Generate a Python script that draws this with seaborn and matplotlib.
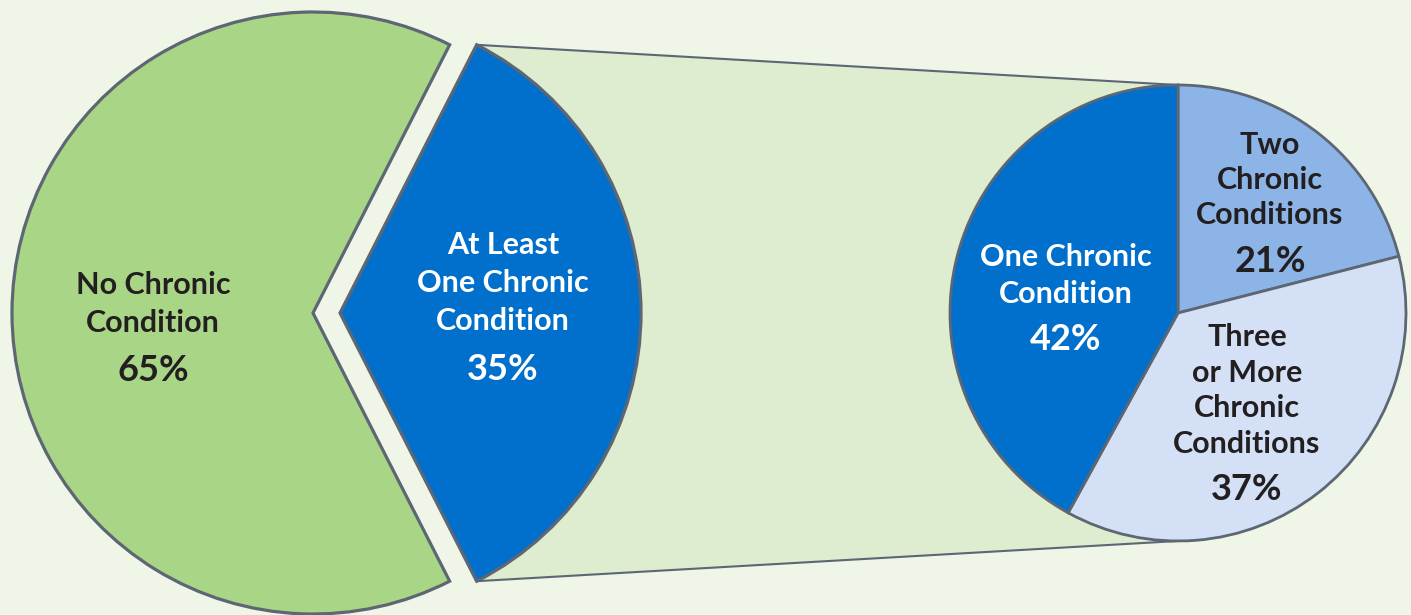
import matplotlib
matplotlib.use("Agg")
import matplotlib.pyplot as plt
from matplotlib.patches import Polygon
import numpy as np
import seaborn as sns

# data
main_labels = ["No Chronic\nCondition", "At Least\nOne Chronic\nCondition"]
main_values = [65, 35]
sub_labels = ["Two\nChronic\nConditions", "Three\nor More\nChronic\nConditions", "One Chronic\nCondition"]
sub_values = [21, 37, 42]

main_colors = ["#a9d586", "#0070cc"]
sub_colors = ["#8cb4e6", "#d3e0f5", "#0070cc"]
main_text = ["#231f20", "white"]
sub_text = ["#231f20", "#231f20", "white"]

sns.set_theme(style="white")
plt.rcParams["font.family"] = ["Lato", "DejaVu Sans"]

bg = "#eff6e7"
edge = "#5d6673"
W, H = 1411, 615

fig = plt.figure(figsize=(14.11, 6.15), dpi=100, facecolor=bg)
ax = fig.add_axes([0, 0, 1, 1])
ax.set_facecolor(bg)

# left pie, blue wedge pulled out (explode is in data units here)
r1 = 301
c1 = (313, H - 313)
wedges1, _ = ax.pie(main_values, colors=main_colors, radius=r1, center=c1,
                    startangle=63, counterclock=True, explode=[0, 27],
                    wedgeprops=dict(edgecolor=edge, linewidth=2.3, zorder=3),
                    frame=True)

# right pie
r2 = 228
c2 = (1178, H - 313)
wedges2, _ = ax.pie(sub_values, colors=sub_colors, radius=r2, center=c2,
                    startangle=90, counterclock=False,
                    wedgeprops=dict(edgecolor=edge, linewidth=2.0, zorder=3),
                    frame=True)
ax.set_xlim(0, W)
ax.set_ylim(0, H)
ax.set_aspect("equal")
ax.axis("off")

# connector between exploded wedge and right pie
bw = wedges1[1]
bx, by = bw.center
t1, t2 = np.radians(bw.theta1), np.radians(bw.theta2)
p_bot = (bx + bw.r * np.cos(t1), by + bw.r * np.sin(t1))
p_top = (bx + bw.r * np.cos(t2), by + bw.r * np.sin(t2))
q_top = (c2[0], c2[1] + r2)
q_bot = (c2[0], c2[1] - r2)
ax.add_patch(Polygon([p_top, q_top, q_bot, p_bot], closed=True,
                     facecolor="#deedcf", edgecolor="none", zorder=1))
ax.plot([p_top[0], q_top[0]], [p_top[1], q_top[1]], color=edge, lw=1.5, zorder=2)
ax.plot([p_bot[0], q_bot[0]], [p_bot[1], q_bot[1]], color=edge, lw=1.5, zorder=2)


def put_label(x, yc, lab, val, col, step, gap):
    lines = lab.split("\n")
    n = len(lines)
    for i, ln in enumerate(lines):
        y = yc + (i - (n - 1) / 2) * step
        ax.text(x, H - y, ln, ha="center", va="center", fontsize=22,
                fontweight="bold", color=col, zorder=5)
    ylast = yc + (n - 1) / 2 * step
    ax.text(x, H - (ylast + gap), f"{val}%", ha="center", va="center",
            fontsize=26, fontweight="bold", color=col, zorder=5)


# labels
main_pos = [(153, 303.5), (503, 283)]
sub_pos = [(1270, 180), (1247, 390.5), (1066, 275.5)]
for lab, val, (x, y), col in zip(main_labels, main_values, main_pos, main_text):
    put_label(x, y, lab, val, col, 38, 48)
for lab, val, (x, y), col in zip(sub_labels, sub_values, sub_pos, sub_text):
    step = 37 if col == "white" else 35.5
    put_label(x, y, lab, val, col, step, 46)

fig.savefig("out.png", dpi=100, facecolor=bg)
